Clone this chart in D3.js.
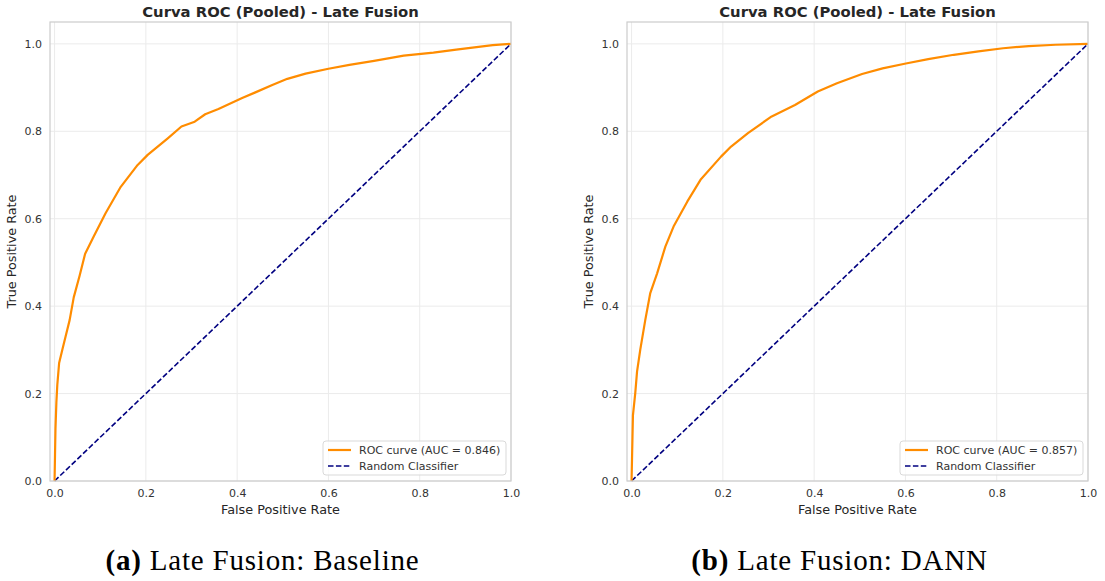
<!DOCTYPE html>
<html>
<head>
<meta charset="utf-8">
<script src="https://cdn.jsdelivr.net/npm/d3@7"></script>
<style>
  body { margin: 0; background: #fff; }
  svg { display: block; }
</style>
</head>
<body>
<div id="chart"></div>
<script>
// ROC points
const fprBaseline = [0, 0.001, 0.002, 0.004, 0.006, 0.010, 0.017, 0.024, 0.033, 0.042, 0.055, 0.067, 0.086, 0.112,
    0.145, 0.182, 0.204, 0.248, 0.278, 0.307, 0.330, 0.359, 0.411, 0.440, 0.477, 0.510, 0.550, 0.600, 0.646, 0.700,
    0.765, 0.830, 0.880, 0.920, 0.960, 1.0];
const tprBaseline = [0, 0.06, 0.12, 0.18, 0.22, 0.27, 0.30, 0.33, 0.368, 0.42, 0.47, 0.52, 0.56, 0.613,
    0.673, 0.723, 0.746, 0.784, 0.811, 0.822, 0.839, 0.851, 0.876, 0.889, 0.906, 0.920, 0.932, 0.943, 0.952, 0.961,
    0.973, 0.980, 0.987, 0.992, 0.997, 1.0];

const fprDann = [0, 0.001, 0.002, 0.003, 0.005, 0.008, 0.012, 0.019, 0.030, 0.041, 0.056, 0.074, 0.092, 0.122,
    0.151, 0.196, 0.218, 0.255, 0.307, 0.358, 0.408, 0.450, 0.505, 0.550, 0.601, 0.650, 0.706, 0.760, 0.814,
    0.870, 0.929, 1.0];
const tprDann = [0, 0.05, 0.10, 0.15, 0.17, 0.20, 0.25, 0.30, 0.368, 0.43, 0.475, 0.536, 0.582, 0.639,
    0.689, 0.742, 0.765, 0.796, 0.834, 0.860, 0.891, 0.910, 0.931, 0.944, 0.955, 0.965, 0.975, 0.983, 0.990,
    0.995, 0.998, 1.0];

const chanceLine = [0, 1];
const xTicks = [0, 0.2, 0.4, 0.6, 0.8, 1.0];
const yTicks = [0, 0.2, 0.4, 0.6, 0.8, 1.0];

const aucValues = [0.846, 0.857];
const captionTags = ["(a)", "(b)"];
const captionTexts = ["Late Fusion: Baseline", "Late Fusion: DANN"];

const W = 1105, H = 581;
const svg = d3.select("#chart").append("svg")
    .attr("width", W)
    .attr("height", H);
svg.append("rect").attr("width", W).attr("height", H).attr("fill", "#fff");

const sans = "'DejaVu Sans', sans-serif";

function drawPanel(left, fpr, tpr, auc, tag, caption) {
    let frame = {left: left, top: 22, width: 461, height: 459};

    let x = d3.scaleLinear().domain([-0.01, 1.0]).range([0, frame.width]);
    let y = d3.scaleLinear().domain([0, 1.05]).range([frame.height, 0]);

    let g = svg.append("g").attr("transform", "translate(" + frame.left + "," + frame.top + ")");

    // grid
    g.append("g").selectAll("line").data(xTicks).enter().append("line")
        .attr("x1", d => x(d)).attr("x2", d => x(d))
        .attr("y1", 0).attr("y2", frame.height)
        .attr("stroke", "#ebebeb").attr("stroke-width", 1);
    g.append("g").selectAll("line").data(yTicks).enter().append("line")
        .attr("y1", d => y(d)).attr("y2", d => y(d))
        .attr("x1", 0).attr("x2", frame.width)
        .attr("stroke", "#ebebeb").attr("stroke-width", 1);

    // axes (labels only, seaborn whitegrid look)
    let xAxis = g.append("g")
        .attr("transform", "translate(0," + frame.height + ")")
        .call(d3.axisBottom(x).tickValues(xTicks).tickFormat(d3.format(".1f")).tickSize(0).tickPadding(8));
    let yAxis = g.append("g")
        .call(d3.axisLeft(y).tickValues(yTicks).tickFormat(d3.format(".1f")).tickSize(0).tickPadding(8));
    [xAxis, yAxis].forEach(a => {
        a.select(".domain").remove();
        a.selectAll("text").attr("font-family", sans).attr("font-size", 11).attr("fill", "#333");
    });

    // chance diagonal
    let line = d3.line().x(d => x(d[0])).y(d => y(d[1]));
    g.append("path")
        .datum(chanceLine.map(v => [v, v]))
        .attr("d", line)
        .attr("fill", "none")
        .attr("stroke", "#000080")
        .attr("stroke-width", 1.6)
        .attr("stroke-dasharray", "5.5,2.4");

    // ROC curve
    g.append("path")
        .datum(fpr.map((d, i) => [d, tpr[i]]))
        .attr("d", line)
        .attr("fill", "none")
        .attr("stroke", "#ff8c00")
        .attr("stroke-width", 2.2)
        .attr("stroke-linejoin", "round");

    // frame
    g.append("rect")
        .attr("width", frame.width).attr("height", frame.height)
        .attr("fill", "none").attr("stroke", "#cccccc").attr("stroke-width", 1.2);

    // title and axis labels
    g.append("text")
        .attr("x", frame.width / 2).attr("y", -5)
        .attr("text-anchor", "middle")
        .attr("font-family", sans).attr("font-size", 14.8).attr("font-weight", "bold")
        .attr("fill", "#262626")
        .text("Curva ROC (Pooled) - Late Fusion");
    g.append("text")
        .attr("x", frame.width / 2).attr("y", frame.height + 33)
        .attr("text-anchor", "middle")
        .attr("font-family", sans).attr("font-size", 12.8).attr("fill", "#262626")
        .text("False Positive Rate");
    g.append("text")
        .attr("transform", "translate(-34," + frame.height / 2 + ") rotate(-90)")
        .attr("text-anchor", "middle")
        .attr("font-family", sans).attr("font-size", 12.8).attr("fill", "#262626")
        .text("True Positive Rate");

    // legend
    let lg = g.append("g").attr("transform", "translate(" + (frame.width - 188) + "," + (frame.height - 40) + ")");
    lg.append("rect")
        .attr("width", 183).attr("height", 34).attr("rx", 3)
        .attr("fill", "#fff").attr("fill-opacity", 0.8)
        .attr("stroke", "#d9d9d9").attr("stroke-width", 1);
    let items = [
        {label: "ROC curve (AUC = " + auc.toFixed(3) + ")", color: "#ff8c00", dash: null, w: 2.2},
        {label: "Random Classifier", color: "#000080", dash: "5.5,2.4", w: 1.6}
    ];
    items.forEach((it, i) => {
        let yy = 9 + i * 16;
        lg.append("line")
            .attr("x1", 5).attr("x2", 28).attr("y1", yy).attr("y2", yy)
            .attr("stroke", it.color).attr("stroke-width", it.w)
            .attr("stroke-dasharray", it.dash);
        lg.append("text")
            .attr("x", 36).attr("y", yy + 4)
            .attr("font-family", sans).attr("font-size", 11).attr("fill", "#333")
            .text(it.label);
    });

    // subfigure caption
    let cap = svg.append("text")
        .attr("x", frame.left + frame.width / 2 - 18).attr("y", 570)
        .attr("text-anchor", "middle")
        .attr("font-family", "'Liberation Serif', 'DejaVu Serif', serif")
        .attr("font-size", 29).attr("letter-spacing", 0.8).attr("fill", "#000");
    cap.append("tspan").attr("font-weight", "bold").text(tag);
    cap.append("tspan").text(" " + caption);
}

drawPanel(50, fprBaseline, tprBaseline, aucValues[0], captionTags[0], captionTexts[0]);
drawPanel(627, fprDann, tprDann, aucValues[1], captionTags[1], captionTexts[1]);
</script>
</body>
</html>
